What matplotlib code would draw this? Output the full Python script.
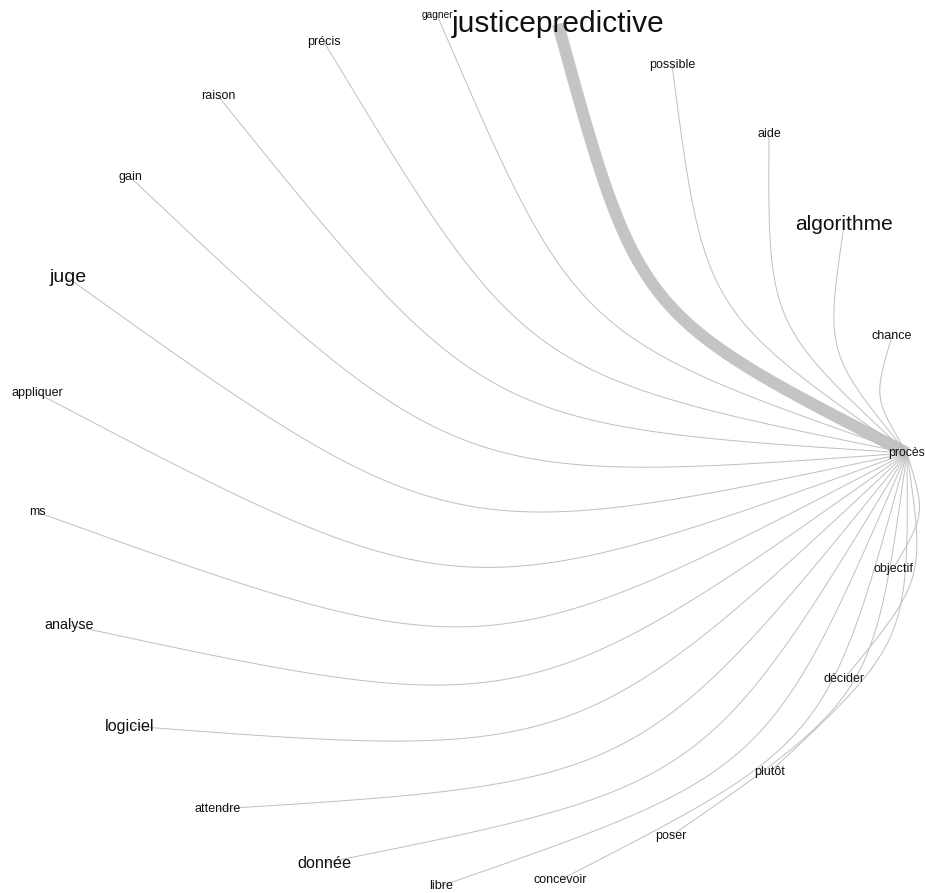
import numpy as np
import matplotlib
matplotlib.use("Agg")
import matplotlib.pyplot as plt

# ---- data: network layout (node coordinates in layout units, y downward) ----
nodes = ['procès', 'justicepredictive', 'gagner', 'précis', 'raison', 'gain',
         'juge', 'appliquer', 'ms', 'analyse', 'logiciel', 'attendre',
         'donnée', 'libre', 'concevoir', 'poser', 'plutôt', 'décider',
         'objectif', 'chance', 'algorithme', 'aide', 'possible']
node_x = [907, 558, 437, 324, 218, 130, 68, 37, 37, 69, 130, 218,
          324, 441, 560, 671, 770, 844, 893, 892, 844, 769, 672]
node_y = [453, 24, 15, 42, 96, 177, 278, 393, 512, 625, 726, 809,
          863, 886, 880, 836, 772, 679, 569, 336, 225, 134, 65]

# edges: every word linked to "procès"; weight drives thickness
edge_target = ['justicepredictive', 'gagner', 'précis', 'raison', 'gain',
               'juge', 'appliquer', 'ms', 'analyse', 'logiciel', 'attendre',
               'donnée', 'libre', 'concevoir', 'poser', 'plutôt', 'décider',
               'objectif', 'chance', 'algorithme', 'aide', 'possible']
edge_weight = [14, 1, 1, 1, 1, 1, 1, 1, 1, 1, 1,
               1, 1, 1, 1, 1, 1, 1, 1, 1, 1, 1]

# label sizes (pt)
label_size = {'procès': 8.8, 'justicepredictive': 21.5, 'gagner': 7.3,
              'algorithme': 15.0, 'juge': 14.0, 'logiciel': 11.6,
              'donnée': 11.7, 'analyse': 10.3}
default_size = 9.0

W, H = 925, 893
fig = plt.figure(figsize=(W / 100, H / 100), dpi=100)
ax = fig.add_axes([0, 0, 1, 1])
ax.set_xlim(0, W)
ax.set_ylim(H, 0)
ax.axis('off')

pos = {n: (x, y) for n, x, y in zip(nodes, node_x, node_y)}
curv = 0.22
t = np.linspace(0, 1, 200)

order = np.argsort(-np.array(edge_weight), kind='stable')
for i in order:
    name = edge_target[i]
    x0, y0 = pos[name]
    x1, y1 = pos['procès']
    dx, dy = x1 - x0, y1 - y0
    mx, my = (x0 + x1) / 2, (y0 + y1) / 2
    cx, cy = mx - dy * curv, my + dx * curv
    # cubic Bezier with both inner handles on the control point
    b0 = (1 - t) ** 3
    b1 = 3 * (1 - t) ** 2 * t
    b2 = 3 * (1 - t) * t ** 2
    b3 = t ** 3
    xs = b0 * x0 + (b1 + b2) * cx + b3 * x1
    ys = b0 * y0 + (b1 + b2) * cy + b3 * y1
    w = edge_weight[i]
    ax.plot(xs, ys, color='#c4c4c4' if w > 1 else '#bfbfbf',
            linewidth=0.62 * w if w > 1 else 0.7,
            solid_capstyle='butt', zorder=1)

for n in nodes:
    x, y = pos[n]
    ax.text(x, y, n, ha='center', va='center',
            fontsize=label_size.get(n, default_size),
            family=['Liberation Sans', 'DejaVu Sans'], color='#111111',
            zorder=3)

fig.savefig('out.png', dpi=100, facecolor='white')
